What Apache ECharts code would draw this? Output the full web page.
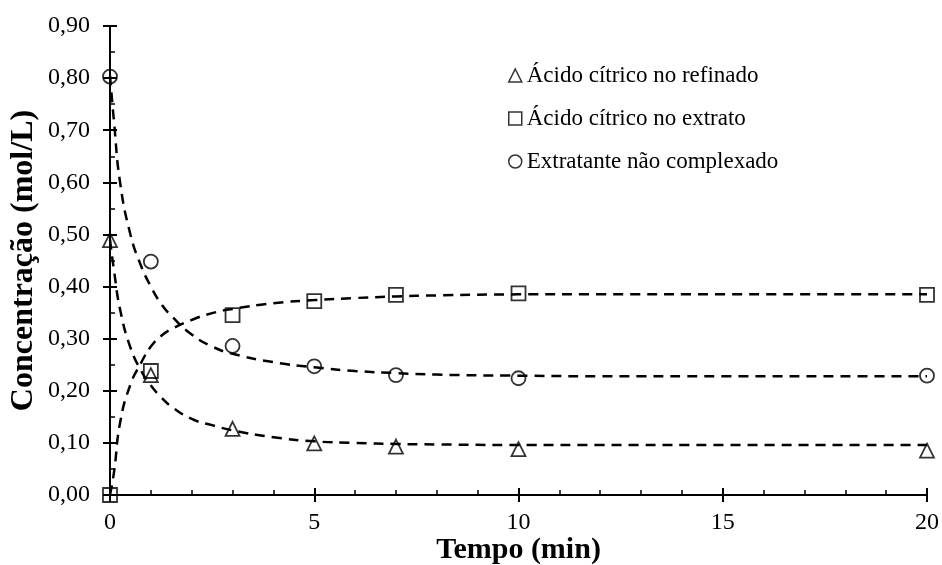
<!DOCTYPE html>
<html>
<head>
<meta charset="utf-8">
<script src="https://cdn.jsdelivr.net/npm/echarts@6/dist/echarts.min.js"></script>
<style>
  html, body { margin: 0; padding: 0; background: #fff; }
  #chart { width: 942px; height: 565px; }
</style>
</head>
<body>
<div id="chart"></div>
<script>
// Measured concentrations (mol/L) at each sampling time (min)
const tempo = [0, 1, 3, 5, 7, 10, 20];
const refinado = [0.489, 0.230, 0.127, 0.099, 0.093, 0.088, 0.085];
const extrato = [0.000, 0.238, 0.345, 0.372, 0.384, 0.387, 0.384];
const extratante = [0.803, 0.448, 0.286, 0.247, 0.230, 0.224, 0.229];

// Fitted kinetic curves (dashed)
const tAjuste = [0, 0.1, 0.25, 0.5, 0.75, 1, 1.25, 1.5, 2, 2.5, 3, 4, 5, 6, 7, 8, 10, 12, 15, 20];
const ajusteRefinado = [0.490, 0.430, 0.355, 0.283, 0.240, 0.210, 0.188, 0.170, 0.146, 0.134, 0.124, 0.111, 0.103, 0.100, 0.098, 0.097, 0.096, 0.096, 0.096, 0.096];
const ajusteExtrato = [0.000, 0.045, 0.140, 0.212, 0.252, 0.285, 0.305, 0.318, 0.336, 0.349, 0.357, 0.368, 0.374, 0.378, 0.381, 0.383, 0.385, 0.385, 0.385, 0.385];
const ajusteExtratante = [0.805, 0.715, 0.598, 0.500, 0.442, 0.400, 0.367, 0.344, 0.308, 0.285, 0.271, 0.255, 0.245, 0.238, 0.234, 0.231, 0.229, 0.228, 0.228, 0.228];

const nomes = ['Ácido cítrico no refinado', 'Ácido cítrico no extrato', 'Extratante não complexado'];
const simbolos = ['triangle', 'rect', 'circle'];

const FONT = '"Liberation Serif", "Times New Roman", serif';
const pares = (xs, ys) => xs.map((x, i) => [x, ys[i]]);

const medidos = [refinado, extrato, extratante];
const ajustes = [ajusteRefinado, ajusteExtrato, ajusteExtratante];

const series = [];
ajustes.forEach((ys) => {
  series.push({
    type: 'line',
    xAxisIndex: 0, yAxisIndex: 0,
    data: pares(tAjuste, ys),
    showSymbol: false,
    smooth: 0.5,
    silent: true,
    lineStyle: { color: '#000', width: 2.5, type: [10, 7] },
    z: 2
  });
});
medidos.forEach((ys, i) => {
  series.push({
    type: 'scatter',
    name: nomes[i],
    xAxisIndex: 0, yAxisIndex: 0,
    data: pares(tempo, ys),
    symbol: simbolos[i],
    symbolSize: 14,
    itemStyle: { color: 'rgba(0,0,0,0)', borderColor: '#000', borderWidth: 1.8 },
    z: 3
  });
});

const chart = echarts.init(document.getElementById('chart'), null, { renderer: 'canvas' });
chart.setOption({
  animation: false,
  backgroundColor: '#fff',
  textStyle: { fontFamily: FONT, color: '#000' },
  grid: { left: 110, right: 15, top: 26, bottom: 70, containLabel: false, outerBoundsMode: 'none' },
  legend: {
    orient: 'vertical',
    left: 503, top: 59,
    itemWidth: 13, itemHeight: 13,
    itemGap: 20,
    data: nomes.map((n, i) => ({ name: n, icon: simbolos[i] })),
    itemStyle: { color: 'rgba(0,0,0,0)', borderColor: '#000', borderWidth: 1.5 },
    textStyle: { fontFamily: FONT, fontSize: 23, color: '#000' },
    selectedMode: false
  },
  xAxis: [
    {
      type: 'value', min: 0, max: 20, interval: 5,
      name: 'Tempo (min)', nameLocation: 'middle', nameGap: 40, nameMoveOverlap: false,
      nameTextStyle: { fontFamily: FONT, fontSize: 30, fontWeight: 'bold', color: '#000' },
      axisLine: { onZero: false, lineStyle: { color: '#000', width: 2 } },
      axisTick: { inside: false, length: 7, lineStyle: { color: '#000', width: 2 } },
      axisLabel: { fontFamily: FONT, fontSize: 24, color: '#000', margin: 16 },
      splitLine: { show: false }
    },
    {
      type: 'value', min: 0, max: 20, interval: 5, position: 'bottom',
      axisLine: { show: false, onZero: false },
      axisTick: { inside: true, length: 7, lineStyle: { color: '#000', width: 2 } },
      minorTick: { show: true, splitNumber: 5, length: 5, lineStyle: { color: '#000', width: 1.5 } },
      axisLabel: { show: false },
      splitLine: { show: false }
    }
  ],
  yAxis: [
    {
      type: 'value', min: 0, max: 0.9, interval: 0.1,
      name: 'Concentração (mol/L)', nameLocation: 'middle', nameGap: 70, nameMoveOverlap: false,
      nameTextStyle: { fontFamily: FONT, fontSize: 32, fontWeight: 'bold', color: '#000' },
      axisLine: { show: true, onZero: false, lineStyle: { color: '#000', width: 2 } },
      axisTick: { show: true, inside: false, length: 7, lineStyle: { color: '#000', width: 2 } },
      axisLabel: {
        fontFamily: FONT, fontSize: 24, color: '#000', margin: 20,
        formatter: (v) => v.toFixed(2).replace('.', ',')
      },
      splitLine: { show: false }
    },
    {
      type: 'value', min: 0, max: 0.9, interval: 0.1, position: 'left',
      axisLine: { show: false, onZero: false },
      axisTick: { show: true, inside: true, length: 7, lineStyle: { color: '#000', width: 2 } },
      minorTick: { show: true, splitNumber: 2, length: 5, lineStyle: { color: '#000', width: 1.5 } },
      axisLabel: { show: false },
      splitLine: { show: false }
    }
  ],
  series: series
});
</script>
</body>
</html>
